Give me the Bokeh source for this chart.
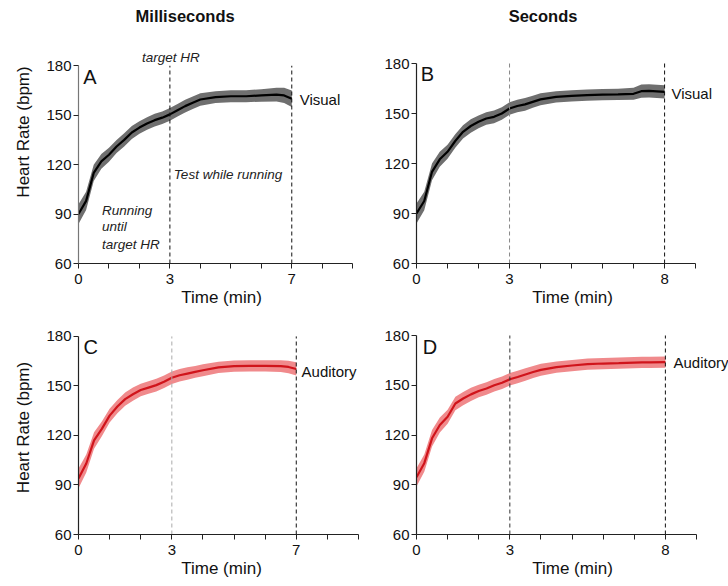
from bokeh.plotting import figure
from bokeh.layouts import gridplot
from bokeh.models import Label, FixedTicker, Range1d
from bokeh.embed import file_html
from bokeh.resources import INLINE

FONT = "Liberation Sans"

# ---------------- data ----------------
t_ms = [0, .25, .5, .75, 1, 1.25, 1.5, 1.75, 2, 2.25, 2.5, 2.75, 3, 3.25, 3.5,
        3.75, 4, 4.5, 5, 5.5, 6, 6.5, 6.75, 7]
t_s = [0, .25, .5, .75, 1, 1.25, 1.5, 1.75, 2, 2.25, 2.5, 2.75, 3, 3.25, 3.5,
       3.75, 4, 4.5, 5, 5.5, 6, 6.5, 7, 7.25, 7.5, 8]

visual_ms = [90, 98, 115, 122, 126, 131, 135, 139.5, 142.5, 145, 147, 148.5, 150.5,
             153, 155.5, 157.5, 159.5, 161, 161.5, 161.5, 162, 162.5, 162, 160]
visual_ms_se = [6, 5.5, 5, 4.5, 4.2, 4, 4, 4, 3.8, 3.8, 3.8, 3.8, 3.8, 3.8, 3.8,
                3.8, 3.8, 3.6, 3.6, 3.6, 3.8, 4.2, 4.6, 5]

auditory_ms = [94, 103, 117, 124, 132, 137.5, 142, 145, 147.5, 149, 150.5, 152.5, 155,
               156.5, 157.5, 158.5, 159.5, 161.2, 162, 162.2, 162.2, 162, 161.5, 160.3]
auditory_ms_se = [6, 5.5, 5, 4.5, 4.2, 4, 4, 4, 3.8, 3.8, 3.8, 3.8, 3.8, 3.8, 3.8,
                  3.6, 3.6, 3.4, 3.4, 3.4, 3.4, 3.6, 3.8, 4]

visual_s = [90, 97.5, 115, 122.5, 127, 133.5, 139, 142.5, 145, 147, 148, 150, 153,
            154.5, 155.5, 157, 158.5, 160, 160.6, 161, 161.3, 161.5, 161.8, 163.4,
            163.6, 163]
visual_s_se = [6, 5.5, 5, 4.5, 4.2, 4, 4, 4, 3.8, 3.8, 3.8, 3.8, 3.8, 3.8, 3.8,
               3.6, 3.6, 3.4, 3.4, 3.4, 3.4, 3.4, 3.6, 4, 4, 4]

auditory_s = [94.5, 103, 118, 126, 131, 139, 142, 144.5, 146.5, 148, 150, 151.5, 153.6,
              155, 156.5, 158, 159.3, 160.9, 161.9, 162.7, 163.1, 163.3, 163.7, 163.8,
              163.8, 163.9]
auditory_s_se = [5.5, 5.2, 5, 4.5, 4.2, 4, 4, 4, 3.8, 3.8, 3.8, 3.8, 3.8, 3.8, 3.8,
                 3.6, 3.6, 3.4, 3.4, 3.4, 3.4, 3.4, 3.4, 3.4, 3.4, 3.4]

x_ticks = [0, 1, 2, 3, 4, 5, 6, 7, 8, 9]
x_labels_ms = {0: "0", 3: "3", 7: "7"}
x_labels_s = {0: "0", 3: "3", 8: "8"}
y_ticks = [60, 90, 120, 150, 180]
markers_ms = [3, 7]
markers_s = [3, 8]

X_MIN, X_MAX = 0, 9
Y_MIN, Y_MAX = 60, 180


def panel(t, mean, se, markers, marker_colors, labels_map, letter, letter_xy,
          cond, cond_xy, band_color, line_color, w, h, left, bottom, fw9, fh,
          ylabel, tick_standoff, xlabel_standoff):
    # frame fills the cell to the top/right so outside texts are not clipped;
    # axis bounds keep the visible axes at 0..9 and 60..180
    x_end = X_MAX * (w - left) / fw9
    y_end = Y_MIN + (h - bottom) * (Y_MAX - Y_MIN) / fh
    p = figure(width=w, height=h, output_backend="svg", toolbar_location=None,
               x_range=Range1d(X_MIN, x_end), y_range=Range1d(Y_MIN, y_end),
               min_border_left=left, min_border_right=0,
               min_border_top=0, min_border_bottom=bottom)
    p.outline_line_color = None
    p.grid.visible = False
    p.background_fill_color = "white"
    p.border_fill_color = "white"

    lo = [m - s for m, s in zip(mean, se)]
    hi = [m + s for m, s in zip(mean, se)]
    p.varea(x=t, y1=lo, y2=hi, fill_color=band_color, fill_alpha=1.0)
    p.line(x=t, y=mean, line_color=line_color, line_width=2.2)

    p.segment(x0=markers, y0=[Y_MIN] * len(markers), x1=markers,
              y1=[Y_MAX] * len(markers), line_color=marker_colors,
              line_dash="4 3", line_width=1)

    p.xaxis.ticker = FixedTicker(ticks=x_ticks)
    p.xaxis.major_label_overrides = {k: labels_map.get(k, "") for k in x_ticks}
    p.xaxis.bounds = (X_MIN, X_MAX)
    p.yaxis.ticker = FixedTicker(ticks=y_ticks)
    p.yaxis.bounds = (Y_MIN, Y_MAX)
    for ax in (p.xaxis[0], p.yaxis[0]):
        ax.axis_line_color = "#222222"
        ax.axis_line_width = 1.2
        ax.major_tick_line_color = "#222222"
        ax.major_tick_in = 0
        ax.major_tick_out = 5
        ax.minor_tick_line_color = None
        ax.major_label_text_font = FONT
        ax.major_label_text_font_size = "15px"
        ax.major_label_text_color = "#111111"
        ax.axis_label_text_font = FONT
        ax.axis_label_text_font_size = "17px"
        ax.axis_label_text_font_style = "normal"
        ax.axis_label_text_color = "#111111"
    p.xaxis.major_label_standoff = tick_standoff
    p.xaxis.axis_label = "Time (min)"
    p.xaxis.axis_label_standoff = xlabel_standoff
    p.yaxis.major_label_standoff = 2
    if ylabel:
        p.yaxis.axis_label = "Heart Rate (bpm)"
        p.yaxis.axis_label_standoff = 10

    p.add_layout(Label(x=letter_xy[0], y=letter_xy[1], text=letter,
                       text_font=FONT, text_font_size="20px",
                       text_baseline="middle", text_align="left",
                       text_color="#111111"))
    p.add_layout(Label(x=cond_xy[0], y=cond_xy[1], text=cond,
                       text_font=FONT, text_font_size="15px",
                       text_baseline="middle", text_align="left",
                       text_color="#111111"))
    return p


GRAY_BAND = "#6f6f6f"
RED_BAND = "#f08a8c"

pA = panel(t_ms, visual_ms, visual_ms_se, markers_ms, ["#111111", "#111111"],
           x_labels_ms, "A", (0.16, 173.4), "Visual", (7.26, 159.6),
           GRAY_BAND, "#000000", 364, 320, 73, 54, 279, 200, True, 5, 1)
pB = panel(t_s, visual_s, visual_s_se, markers_s, ["#888888", "#111111"],
           x_labels_s, "B", (0.14, 173.7), "Visual", (8.22, 162.3),
           GRAY_BAND, "#000000", 364, 320, 51, 57, 280, 200, False, 5, 1)
pC = panel(t_ms, auditory_ms, auditory_ms_se, markers_ms, ["#aaaaaa", "#111111"],
           x_labels_ms, "C", (0.16, 173.3), "Auditory", (7.17, 158.5),
           RED_BAND, "#d0141b", 364, 266, 78, 51, 280, 199, True, 5, 1)
pD = panel(t_s, auditory_s, auditory_s_se, markers_s, ["#333333", "#111111"],
           x_labels_s, "D", (0.2, 173.0), "Auditory", (8.26, 163.7),
           RED_BAND, "#d0141b", 364, 266, 52, 52, 280, 199, False, 5, 1)

pA.yaxis.axis_line_color = "#777777"

pA.add_layout(Label(x=3.5, y=210.0, text="Milliseconds", text_font=FONT,
                    text_font_size="16.5px", text_font_style="bold",
                    text_align="center", text_baseline="middle", text_color="#111111"))
pB.add_layout(Label(x=4.08, y=208.8, text="Seconds", text_font=FONT,
                    text_font_size="16.5px", text_font_style="bold",
                    text_align="center", text_baseline="middle", text_color="#111111"))

ital = dict(text_font=FONT, text_font_size="13.5px", text_font_style="italic",
            text_baseline="middle", text_color="#222222")
pA.add_layout(Label(x=3.03, y=184.8, text="target HR", text_align="center", **ital))
pA.add_layout(Label(x=3.13, y=114.0, text="Test while running", text_align="left", **ital))
pA.add_layout(Label(x=0.77, y=92.4, text="Running", text_align="left", **ital))
pA.add_layout(Label(x=0.77, y=82.2, text="until", text_align="left", **ital))
pA.add_layout(Label(x=0.77, y=71.4, text="target HR", text_align="left", **ital))

grid = gridplot([[pA, pB], [pC, pD]], toolbar_location=None)

open("out.html", "w").write(file_html(grid, INLINE))
